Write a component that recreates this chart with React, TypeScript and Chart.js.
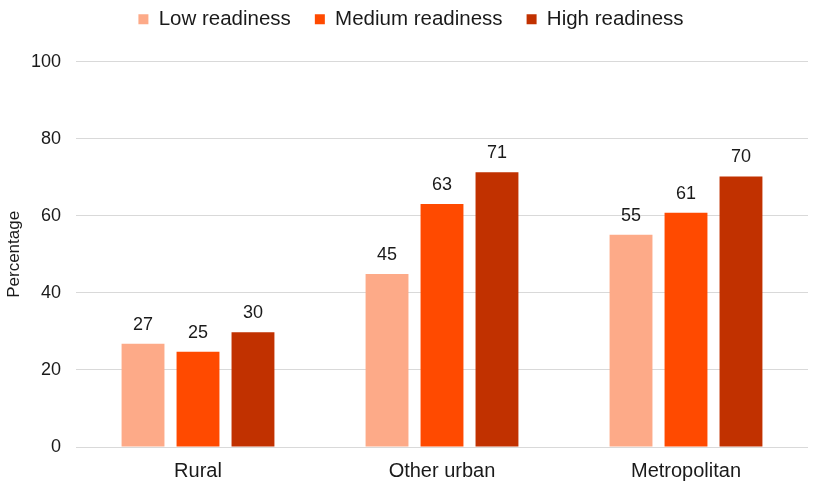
import React, { useEffect, useRef } from "react";
import { Chart, registerables } from "chart.js";

Chart.register(...registerables);

const categories = ["Rural", "Other urban", "Metropolitan"];
const seriesNames = ["Low readiness", "Medium readiness", "High readiness"];
const lowValues = [26.8, 44.9, 55.1];
const mediumValues = [24.7, 63.1, 60.8];
const highValues = [29.8, 71.3, 70.2];
const colors = ["#FDAA88", "#FF4A00", "#C13100"];
const yTicks = [0, 20, 40, 60, 80, 100];

const FONT = "'Liberation Sans', Arial, sans-serif";

const valueLabels = {
  id: "valueLabels",
  afterDatasetsDraw(chart: any) {
    const ctx = chart.ctx;
    ctx.save();
    ctx.font = `18px ${FONT}`;
    ctx.fillStyle = "#1a1a1a";
    ctx.textAlign = "center";
    ctx.textBaseline = "middle";
    chart.data.datasets.forEach((ds: any, i: number) => {
      const meta = chart.getDatasetMeta(i);
      meta.data.forEach((bar: any, j: number) => {
        const v = ds.data[j];
        ctx.fillText(String(Math.round(v)), bar.x, bar.y - 19);
      });
    });
    ctx.restore();
  },
};

export default function App() {
  const ref = useRef<HTMLCanvasElement>(null);
  useEffect(() => {
    const seriesValues = [lowValues, mediumValues, highValues];
    const chart = new Chart(ref.current!, {
      type: "bar",
      data: {
        labels: categories,
        datasets: seriesNames.map((name, i) => ({
          label: name,
          data: seriesValues[i],
          backgroundColor: colors[i],
          borderWidth: 0,
          barPercentage: 0.78,
          categoryPercentage: 0.676,
        })),
      },
      options: {
        animation: false,
        responsive: false,
        maintainAspectRatio: false,
        layout: { padding: { left: 0, right: 0, top: -15, bottom: -9 } },
        plugins: {
          legend: {
            position: "top",
            labels: {
              boxWidth: 10,
              boxHeight: 10,
              color: "#1a1a1a",
              font: { family: FONT, size: 20.5 },
              padding: 24,
            },
          },
          subtitle: {
            display: true,
            text: "",
            position: "top",
            weight: 500,
            font: { size: 1 },
            padding: { top: 0, bottom: 21 },
          } as any,
          tooltip: { enabled: false },
        },
        scales: {
          x: {
            grid: { display: false, drawTicks: false },
            border: { display: false },
            ticks: { color: "#1a1a1a", font: { family: FONT, size: 20 }, padding: 12 },
          },
          y: {
            min: 0,
            max: 100,
            afterBuildTicks(scale: any) {
              scale.ticks = yTicks.map((v) => ({ value: v }));
            },
            afterFit(scale: any) {
              scale.width = 76;
            },
            grid: { color: "#D9D9D9", drawTicks: false },
            border: { display: false },
            ticks: { color: "#1a1a1a", font: { family: FONT, size: 18 }, padding: 15 },
            title: {
              display: true,
              text: "Percentage",
              color: "#1a1a1a",
              font: { family: FONT, size: 17 },
              padding: { top: 4, bottom: 0 },
            },
          },
          yRightSpacer: {
            position: "right",
            min: 0,
            max: 100,
            grid: { display: false, drawTicks: false },
            border: { display: false },
            ticks: { display: false },
            afterFit(scale: any) {
              scale.width = 14;
            },
          } as any,
        },
      },
      plugins: [valueLabels],
    });
    return () => chart.destroy();
  }, []);
  return (
    <div style={{ position: "fixed", left: 0, top: 0, width: 822, height: 486, background: "#fff" }}>
      <canvas ref={ref} width={822} height={486} />
    </div>
  );
}
